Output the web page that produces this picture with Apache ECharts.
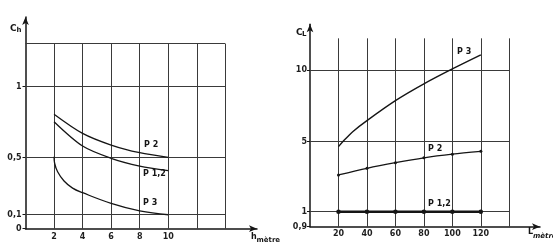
<!DOCTYPE html>
<html><head><meta charset="utf-8">
<script src="https://cdn.jsdelivr.net/npm/echarts@6/dist/echarts.min.js"></script>
<style>html,body{margin:0;padding:0;background:#fff}#c{width:553px;height:246px}</style>
</head><body><div id="c"></div>
<script>
// ---------- Left chart: C_h versus h (mètre) ----------
const hValues   = [2, 4, 6, 8, 10];
const chP2      = [0.805, 0.67, 0.588, 0.534, 0.502];
const chP12     = [0.752, 0.581, 0.495, 0.44, 0.408];
const hValuesP3 = [2, 2.04, 2.25, 2.7, 3.3, 4, 6, 8, 10];
const chP3      = [0.505, 0.46, 0.4, 0.335, 0.285, 0.253, 0.178, 0.125, 0.098];
const hTicks    = [2, 4, 6, 8, 10];
const chTicks   = [0, 0.1, 0.5, 1];
const hGrid     = [2, 4, 6, 8, 10, 12, 14];
const chGrid    = [0.1, 0.5, 1, 1.3];

// ---------- Right chart: C_L versus L (mètre) ----------
const lValues   = [20, 40, 60, 80, 100, 120];
const clP12     = [1, 1, 1, 1, 1, 1];
const clP2      = [3.1, 3.48, 3.8, 4.08, 4.29, 4.45];
const lValuesP3 = [20, 25, 30, 40, 60, 80, 100, 120];
const clP3      = [4.72, 5.2, 5.7, 6.47, 7.86, 9.03, 10.07, 11.05];
const lTicks    = [20, 40, 60, 80, 100, 120];
const clTicks   = [0.9, 1, 5, 10];
const lGrid     = [20, 40, 60, 80, 100, 120, 140];
const clGrid    = [1, 5, 10];
const clTop     = 12.21;

// The original figure draws the C_L axis with a non-uniform (schematic) scale:
// tick values clTicks sit at these heights on the drawn axis.
const clScaleKnots = [0, 15, 85, 156.7];
const clScaleSlopeAbove = 14.33;
function scaleCL(v) {
  const k = clTicks, p = clScaleKnots;
  if (v >= k[k.length - 1]) return p[p.length - 1] + (v - k[k.length - 1]) * clScaleSlopeAbove;
  for (let i = 0; i < k.length - 1; i++) {
    if (v <= k[i + 1]) return p[i] + (v - k[i]) / (k[i + 1] - k[i]) * (p[i + 1] - p[i]);
  }
}
const fmt = v => String(v).replace('.', ',');

const INK = '#151515', GRIDC = '#3a3a3a';
const FONT = 'DejaVu Sans';

function gridSeries(xIdx, verticals, yFrom, yTo, horizontals, xFrom, xTo, ty) {
  const data = [];
  verticals.forEach(x => data.push({coords: [[x, ty(yFrom)], [x, ty(yTo)]]}));
  horizontals.forEach(y => data.push({coords: [[xFrom, ty(y)], [xTo, ty(y)]]}));
  return {type: 'lines', coordinateSystem: 'cartesian2d', xAxisIndex: xIdx, yAxisIndex: xIdx,
    silent: true, z: 1, lineStyle: {color: GRIDC, width: 1, opacity: 1}, data};
}
const id = v => v;

function curve(idx, xs, ys, ty, width, sym, smooth) {
  return {type: 'line', xAxisIndex: idx, yAxisIndex: idx, smooth: smooth || 0.3, z: 3,
    data: xs.map((x, i) => [x, ty(ys[i])]),
    lineStyle: {color: INK, width: width}, itemStyle: {color: INK},
    symbol: sym ? 'circle' : 'none', symbolSize: sym || 0, showSymbol: !!sym};
}

const axisLine = {show: true, symbol: ['none', 'arrow'], symbolSize: [5, 8],
  lineStyle: {color: INK, width: 1.5}};
const lbl = {color: '#1e1e1e', fontFamily: FONT, fontSize: 8, fontWeight: 'bold'};

const option = {
  animation: false,
  backgroundColor: '#fff',
  grid: [
    {left: 25.5, right: 296, top: 17, bottom: 17.3},
    {left: 310, right: 13, top: 24.3, bottom: 19.3}
  ],
  xAxis: [
    {gridIndex: 0, type: 'value', min: 0, max: 16.22, splitLine: {show: false}, axisLine,
      axisTick: {show: false},
      axisLabel: Object.assign({customValues: hTicks, margin: 4}, lbl)},
    {gridIndex: 1, type: 'value', min: 0, max: 161.56, splitLine: {show: false}, axisLine,
      axisTick: {show: false},
      axisLabel: Object.assign({customValues: lTicks, margin: 3}, lbl)}
  ],
  yAxis: [
    {gridIndex: 0, type: 'value', min: 0, max: 1.488, splitLine: {show: false}, axisLine,
      axisTick: {show: true, customValues: chTicks, length: 3, lineStyle: {color: INK, width: 1}},
      axisLabel: Object.assign({customValues: chTicks, margin: 4, formatter: fmt}, lbl)},
    {gridIndex: 1, type: 'value', min: 0, max: 202.4, splitLine: {show: false}, axisLine,
      axisTick: {show: true, customValues: clTicks.map(scaleCL), length: 3, lineStyle: {color: INK, width: 1}},
      axisLabel: Object.assign({customValues: clTicks.map(scaleCL), margin: 3,
        formatter: t => {
          let best = 0;
          clTicks.forEach((v, i) => { if (Math.abs(scaleCL(v) - t) < Math.abs(scaleCL(clTicks[best]) - t)) best = i; });
          return fmt(clTicks[best]);
        }}, lbl)}
  ],
  series: [
    gridSeries(0, hGrid, 0, chGrid[chGrid.length - 1], chGrid, 0, hGrid[hGrid.length - 1], id),
    gridSeries(1, lGrid, clTicks[0], clTop, clGrid, 0, lGrid[lGrid.length - 1], scaleCL),
    curve(0, hValues, chP2, id, 1.3, 0),
    curve(0, hValues, chP12, id, 1.3, 0),
    curve(0, hValuesP3, chP3, id, 1.3, 0, 0.4),
    curve(1, lValuesP3, clP3, scaleCL, 1.4, 0),
    curve(1, lValues, clP2, scaleCL, 1.3, 3),
    curve(1, lValues, clP12, scaleCL, 2.4, 4.5)
  ],
  graphic: [
    {type: 'text', left: 10, top: 24, style: {text: 'C', font: 'bold 9px "DejaVu Sans"', fill: INK}},
    {type: 'text', left: 16.5, top: 27, style: {text: 'h', font: 'bold 7px "DejaVu Sans"', fill: INK}},
    {type: 'text', left: 296, top: 28, style: {text: 'C', font: 'bold 9px "DejaVu Sans"', fill: INK}},
    {type: 'text', left: 302, top: 31, style: {text: 'L', font: 'bold 7px "DejaVu Sans"', fill: INK}},
    {type: 'text', left: 251, top: 233, style: {text: 'h', font: 'bold 8px "DejaVu Sans"', fill: INK}},
    {type: 'text', left: 256.5, top: 237, style: {text: 'mètre', font: 'bold 7px "DejaVu Sans"', fill: INK}},
    {type: 'text', left: 528, top: 228, style: {text: 'L', font: 'bold 8px "DejaVu Sans"', fill: INK}},
    {type: 'text', left: 533, top: 233, style: {text: 'mètre', font: 'italic bold 7px "DejaVu Sans"', fill: INK}},
    {type: 'text', left: 144, top: 141, style: {text: 'P 2', font: 'bold 8px "DejaVu Sans"', fill: INK}},
    {type: 'text', left: 143, top: 170, style: {text: 'P 1,2', font: 'bold 8px "DejaVu Sans"', fill: INK}},
    {type: 'text', left: 143, top: 199, style: {text: 'P 3', font: 'bold 8px "DejaVu Sans"', fill: INK}},
    {type: 'text', left: 457, top: 48, style: {text: 'P 3', font: 'bold 8px "DejaVu Sans"', fill: INK}},
    {type: 'text', left: 428, top: 145, style: {text: 'P 2', font: 'bold 8px "DejaVu Sans"', fill: INK}},
    {type: 'text', left: 428, top: 200, style: {text: 'P 1,2', font: 'bold 8px "DejaVu Sans"', fill: INK}}
  ]
};
const chart = echarts.init(document.getElementById('c'), null, {renderer: 'canvas'});
chart.setOption(option);
</script></body></html>
